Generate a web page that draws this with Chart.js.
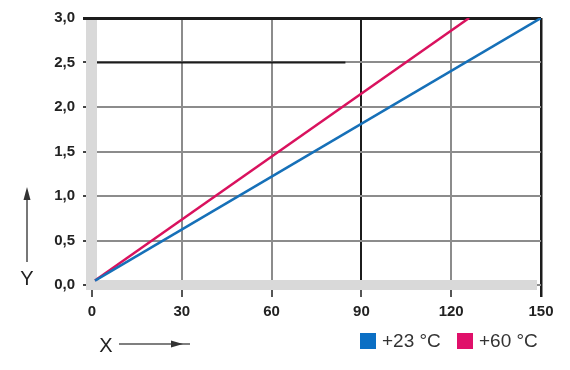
<!DOCTYPE html>
<html>
<head>
<meta charset="utf-8">
<script src="https://cdn.jsdelivr.net/npm/chart.js@4"></script>
<style>
  body { margin: 0; background: #fff; }
  #wrap { width: 570px; height: 370px; }
</style>
</head>
<body>
<div id="wrap"><canvas id="temp_chart" width="570" height="370"></canvas></div>
<script>
// data
var seriesLabels = ['+23 °C', '+60 °C'];
var seriesColors = ['#1670b8', '#d9125e'];
var legendColors = ['#0b6fc4', '#e0106a'];
var blueX = [1, 150];
var blueY = [0.05, 3.0];
var pinkX = [1, 126];
var pinkY = [0.05, 3.0];
var xTicks = [0, 30, 60, 90, 120, 150];
var yTicks = [0, 0.5, 1.0, 1.5, 2.0, 2.5, 3.0];

function toPoints(xs, ys) {
    var pts = [];
    for (let i = 0; i < xs.length; i++) {
        pts.push({x: xs[i], y: ys[i]});
    }
    return pts;
}

var GRID = '#8c8c8c';
var DARK = '#1c1c1c';

// grey strips along the axes, plus the dark 2,5 reading line
var stripPlugin = {
    id: 'strips',
    beforeDatasetsDraw: function(chart) {
        var c = chart.ctx;
        var xs = chart.scales.x, ys = chart.scales.y;
        var x0 = xs.getPixelForValue(0), y0 = ys.getPixelForValue(0);
        var x90 = xs.getPixelForValue(90), y25 = ys.getPixelForValue(2.5);
        var xEnd = xs.getPixelForValue(150), yTop = ys.getPixelForValue(3);
        c.save();
        c.strokeStyle = DARK;
        c.lineWidth = 2;
        c.beginPath();
        c.moveTo(x0, y25);
        c.lineTo(x90 - 16, y25);
        c.stroke();
        c.fillStyle = '#d9d9d9';
        c.fillRect(x0 - 6, yTop + 2, 11, y0 + 5 - yTop - 2);
        c.fillRect(x0 - 6, y0 - 5, xEnd - 4 - (x0 - 6), 10);
        c.restore();
    },
    afterDraw: function(chart) {
        var c = chart.ctx;
        c.save();
        // Y arrow
        c.strokeStyle = '#555';
        c.fillStyle = '#333';
        c.lineWidth = 1.6;
        c.beginPath();
        c.moveTo(27, 262);
        c.lineTo(27, 196);
        c.stroke();
        c.beginPath();
        c.moveTo(27, 187);
        c.lineTo(23.5, 200);
        c.lineTo(30.5, 200);
        c.closePath();
        c.fill();
        // X arrow
        c.beginPath();
        c.moveTo(119, 344);
        c.lineTo(190, 344);
        c.stroke();
        c.beginPath();
        c.moveTo(183, 344);
        c.lineTo(171, 340.5);
        c.lineTo(171, 347.5);
        c.closePath();
        c.fill();
        // axis letters
        c.fillStyle = '#222';
        c.font = '20px "Liberation Sans", Arial, sans-serif';
        c.textAlign = 'center';
        c.textBaseline = 'middle';
        c.fillText('Y', 27, 279);
        c.fillText('X', 106, 346);
        // legend
        var lx = [360, 457];
        c.textAlign = 'left';
        c.font = '19px "Liberation Sans", Arial, sans-serif';
        for (let i = 0; i < seriesLabels.length; i++) {
            c.fillStyle = legendColors[i];
            c.fillRect(lx[i], 333, 16, 16);
            c.fillStyle = '#333';
            c.fillText(seriesLabels[i], lx[i] + 22, 342);
        }
        c.restore();
    }
};

var ctx = document.getElementById('temp_chart').getContext('2d');
var tempChart = new Chart(ctx, {
    type: 'scatter',
    data: {
        datasets: [{
            label: seriesLabels[0],
            data: toPoints(blueX, blueY),
            showLine: true,
            borderColor: seriesColors[0],
            borderWidth: 2.5,
            pointRadius: 0
        }, {
            label: seriesLabels[1],
            data: toPoints(pinkX, pinkY),
            showLine: true,
            borderColor: seriesColors[1],
            borderWidth: 2.5,
            pointRadius: 0
        }]
    },
    options: {
        responsive: false,
        animation: false,
        layout: { padding: { left: 0, top: 18, right: 29, bottom: 0 } },
        plugins: {
            legend: { display: false },
            tooltip: { enabled: false }
        },
        scales: {
            x: {
                type: 'linear',
                min: 0,
                max: 150,
                afterFit: function(scale) { scale.height = 85; },
                afterBuildTicks: function(scale) {
                    scale.ticks = xTicks.map(function(v) { return {value: v}; });
                },
                border: { display: false },
                grid: {
                    color: function(c) { return (c.tick && (c.tick.value === 90 || c.tick.value === 150)) ? DARK : GRID; },
                    lineWidth: function(c) { return (c.tick && c.tick.value === 150) ? 2.5 : 2; },
                    tickColor: function(c) { return (c.tick && c.tick.value === 150) ? DARK : '#555'; },
                    tickLength: 12
                },
                ticks: {
                    padding: 6,
                    color: '#222',
                    font: { family: '"Liberation Sans", Arial, sans-serif', size: 15, weight: 'bold' }
                }
            },
            y: {
                type: 'linear',
                min: 0,
                max: 3,
                afterFit: function(scale) { scale.width = 92; },
                afterBuildTicks: function(scale) {
                    scale.ticks = yTicks.map(function(v) { return {value: v}; });
                },
                border: { display: false },
                grid: {
                    color: function(c) { return (c.tick && c.tick.value === 3) ? DARK : GRID; },
                    lineWidth: function(c) { return (c.tick && c.tick.value === 3) ? 3 : 2; },
                    tickColor: function(c) { return (c.tick && c.tick.value === 3) ? DARK : '#444'; },
                    tickLength: 9
                },
                ticks: {
                    padding: 8,
                    color: '#222',
                    font: { family: '"Liberation Sans", Arial, sans-serif', size: 15, weight: 'bold' },
                    callback: function(v) { return v.toFixed(1).replace('.', ','); }
                }
            }
        }
    },
    plugins: [stripPlugin]
});
</script>
</body>
</html>
